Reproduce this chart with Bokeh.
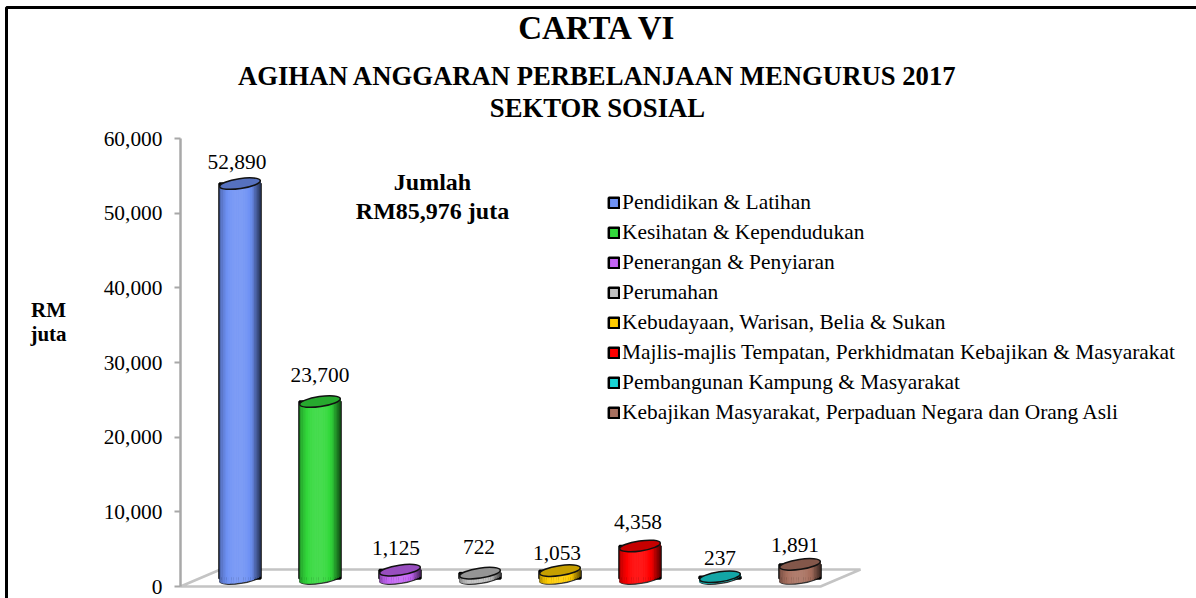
from bokeh.plotting import figure
from bokeh.embed import file_html
from bokeh.resources import INLINE
from bokeh.core.properties import value
from bokeh.models import Label, BoxAnnotation, Legend, LegendItem, LinearAxis, FixedTicker, NumeralTickFormatter, Range1d, ColumnDataSource
import math

categories = ["Pendidikan & Latihan", "Kesihatan & Kependudukan", "Penerangan & Penyiaran", "Perumahan",
              "Kebudayaan, Warisan, Belia & Sukan", "Majlis-majlis Tempatan, Perkhidmatan Kebajikan & Masyarakat",
              "Pembangunan Kampung & Masyarakat", "Kebajikan Masyarakat, Perpaduan Negara dan Orang Asli"]
values = [52890, 23700, 1125, 722, 1053, 4358, 237, 1891]
colors = ["#6f92f5", "#33d93c", "#c464f5", "#c0c0c0", "#ffcc00", "#ff0000", "#19d5d5", "#a8705f"]
y_ticks = [0, 10000, 20000, 30000, 40000, 50000, 60000]
title_main = "CARTA VI"
title_sub = ["AGIHAN ANGGARAN PERBELANJAAN MENGURUS 2017", "SEKTOR SOSIAL"]
note = ["Jumlah", "RM85,976 juta"]
y_title = ["RM", "juta"]

W, H = 1196, 598
FONT = "Liberation Serif"
AX_L, AX_B, AX_T = 180, 586, 138     # pixel places of the axis
XU = 80.0                            # pixels per category
YU = (AX_B - AX_T) / 60000.0         # pixels per RM juta
def dy(px): return px / YU
def dx(px): return px / XU

x0 = 239.5                           # pixel centre of the first bar
xs = list(range(len(values)))
a, b, tilt = 20.5, 5.0, 3.0          # half width, half height, half rise of the ellipses
base = dy(8)

p = figure(width=W, height=H, output_backend="svg", toolbar_location=None,
           x_axis_location=None, y_axis_location=None,
           x_range=Range1d(-x0 / XU, (W - x0) / XU),
           y_range=Range1d((AX_B - H) / YU, AX_B / YU),
           min_border_left=0, min_border_right=0, min_border_top=0, min_border_bottom=0,
           outline_line_color=None, background_fill_color="white")
p.grid.visible = False

fl, fr = (AX_L - x0) / XU, (AX_L - x0) / XU + len(values)

yaxis = LinearAxis(ticker=FixedTicker(ticks=y_ticks), formatter=NumeralTickFormatter(format="0,0"),
                   bounds=(0, 60000), fixed_location=fl, axis_line_color="#a8a8a8", axis_line_width=2.5,
                   major_tick_line_color="#a8a8a8", major_tick_line_width=2, major_tick_in=0, major_tick_out=6,
                   minor_tick_line_color=None, major_label_text_font=FONT, major_label_text_font_size="21.4px",
                   major_label_text_color="black", major_label_standoff=12)
p.add_layout(yaxis, "left")

# floor of the 3D chart
dep_x, dep_y = dx(40), dy(17)
p.line([fl + dep_x, fl, fr, fr + dep_x, fl + dep_x], [dep_y, 0, 0, dep_y, dep_y],
       line_color="#c4c4c4", line_width=2.5)

def shade(c, f):
    r, g, bl = [int(c[i:i + 2], 16) for i in (1, 3, 5)]
    if f <= 1:
        vals = [v * f for v in (r, g, bl)]
    else:
        vals = [v + (255 - v) * (f - 1) for v in (r, g, bl)]
    return "#%02x%02x%02x" % tuple(int(v) for v in vals)

items = []
N = 24
for i, (v, c) in enumerate(zip(values, colors)):
    p.ellipse(x=[i], y=[base], width=dx(2 * a), height=dy(2 * b), angle=math.atan2(tilt, a),
              fill_color=shade(c, 0.6), line_color="#333333", line_width=1.2)
    body = p.quad(left=[i - dx(a)], right=[i + dx(a)], bottom=[base], top=[base + v],
                  fill_color=c, line_color="black", line_width=2.5)
    items.append(LegendItem(label=categories[i], renderers=[body]))
    L, R, T, B, C = [], [], [], [], []
    for k in range(N):
        t0, t1 = -1 + 2 * k / N, -1 + 2 * (k + 1) / N
        t = (t0 + t1) / 2
        edge = abs(t - (-0.08)) / 1.08
        f = 1.1 - 0.62 * edge ** 2.6 if t < 0.7 else 1.1 - 0.75 * edge ** 2.2
        L.append(i + dx(a) * t0)
        R.append(i + dx(a) * t1 + dx(0.3))
        B.append(base + dy(tilt * t - (b - 0.8) * math.sqrt(max(0, 1 - t * t))))
        T.append(base + v + dy(tilt * t))
        C.append(shade(c, f))
    p.quad(left=L, right=R, bottom=B, top=T, fill_color=C, line_color=None)
    p.ellipse(x=[i], y=[base + v], width=dx(2 * a), height=dy(2 * b), angle=math.atan2(tilt, a),
              fill_color=shade(c, 0.78), line_color="#111111", line_width=1.5)

nudge_x = [-3, 0, -4, -1, -3, -2, 0, -5]
nudge_y = [22, 27, 22, 26, 18, 24, 19, 19]
src = ColumnDataSource(dict(x=[i + dx(n) for i, n in zip(xs, nudge_x)],
                            y=[base + v + dy(n) for v, n in zip(values, nudge_y)],
                            t=[f"{v:,}" for v in values]))
p.text(x="x", y="y", text="t", source=src, text_font=value(FONT), text_font_size="21.4px",
       text_align="center", text_baseline="middle", text_color="black")

legend = Legend(items=items, location=(607, 173), padding=0, margin=0, spacing=5, border_line_color=None,
                background_fill_alpha=0, glyph_width=13, glyph_height=13, label_standoff=2, label_height=16,
                label_text_font=FONT, label_text_font_size="21.4px", label_text_color="black")
p.add_layout(legend)

def lab(text, x, y, size, bold=False):
    p.add_layout(Label(x=x, y=H - y, x_units="screen", y_units="screen", text=text, text_font=FONT,
                       text_font_size=size, text_font_style="bold" if bold else "normal",
                       text_align="center", text_baseline="middle", text_color="black"))

lab(title_main, 597, 27, "33px", True)
lab(title_sub[0], 597, 75.5, "26.7px", True)
lab(title_sub[1], 597, 107.5, "26.7px", True)
lab(note[0], 432, 181, "24px", True)
lab(note[1], 432, 210, "24px", True)
lab(y_title[0], 48, 309, "21px", True)
lab(y_title[1], 48, 333, "21px", True)

p.add_layout(BoxAnnotation(left=6, right=1197, top=H - 7, bottom=-30, left_units="screen", right_units="screen",
                           top_units="screen", bottom_units="screen", fill_alpha=0, line_color="black",
                           line_alpha=1, line_width=3))

html = file_html(p, INLINE)
open("out.html", "w").write(html)
